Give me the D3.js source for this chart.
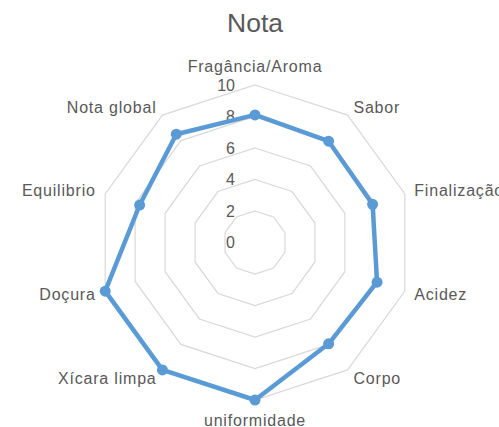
<!DOCTYPE html>
<html lang="pt">
<head>
  <meta charset="utf-8" />
  <title>Nota</title>
  <script src="https://cdnjs.cloudflare.com/ajax/libs/d3/7.8.5/d3.min.js"></script>
  <style>
    body {
      margin: 0;
      background: #fff;
      font-family: 'Liberation Sans', sans-serif;
    }
    svg text {
      fill: #595959;
    }
  </style>
</head>
<body>
  <svg id="radarChart" width="499" height="427"></svg>

<script>
// data
const categories = ["Fragância/Aroma", "Sabor", "Finalização", "Acidez", "Corpo",
                    "uniformidade", "Xícara limpa", "Doçura", "Equilibrio", "Nota global"];
const notas = [8.1, 7.95, 7.85, 8.15, 7.95, 10, 10, 10, 7.7, 8.5];
const ticks = [0, 2, 4, 6, 8, 10];

// ------------------- RADAR CHART -------------------
const svg = d3.select("#radarChart"),
      cx = 255, cy = 242.5, R = 157.5;

const g = svg.append("g").attr("transform", `translate(${cx},${cy})`);

const r = d3.scaleLinear().domain([0, 10]).range([0, R]);
const step = 2 * Math.PI / categories.length;
const a = i => i * step;

const pt = (i, v) => [Math.sin(a(i)) * r(v), -Math.cos(a(i)) * r(v)];

// title
svg.append("text")
  .attr("x", cx)
  .attr("y", 31.5)
  .attr("text-anchor", "middle")
  .style("font-size", "26.5px")
  .text("Nota");

// grid rings
ticks.filter(t => t > 0).forEach(t => {
  g.append("path")
    .attr("d", d3.line()(categories.map((c, i) => pt(i, t))) + "Z")
    .attr("fill", "none")
    .attr("stroke", "#d9d9d9")
    .attr("stroke-width", 1.2);
});

// tick labels
g.selectAll(".tick")
  .data(ticks)
  .enter()
  .append("text")
  .attr("x", -20)
  .attr("y", d => -r(d))
  .attr("dy", "0.36em")
  .attr("text-anchor", "end")
  .style("font-size", "16px")
  .text(d => d);

// category labels
g.selectAll(".cat")
  .data(categories)
  .enter()
  .append("text")
  .attr("x", (d, i) => Math.sin(a(i)) * (R + 10))
  .attr("y", (d, i) => -Math.cos(a(i)) * (R + 10))
  .attr("dy", (d, i) => {
    const c = Math.cos(a(i));
    if (c > 0.99) return "-0.2em";
    if (c < -0.99) return "1.0em";
    return "0.35em";
  })
  .attr("text-anchor", (d, i) => {
    const s = Math.sin(a(i));
    return s > 0.1 ? "start" : s < -0.1 ? "end" : "middle";
  })
  .style("font-size", "16px")
  .style("letter-spacing", "0.8px")
  .text(d => d);

// series line
const line = d3.lineRadial()
  .angle((d, i) => a(i))
  .radius(d => r(d))
  .curve(d3.curveLinearClosed);

g.append("path")
  .datum(notas)
  .attr("fill", "none")
  .attr("stroke", "#5b9bd5")
  .attr("stroke-width", 4.5)
  .attr("stroke-linejoin", "round")
  .attr("d", line);

g.selectAll(".dot")
  .data(notas)
  .enter()
  .append("circle")
  .attr("cx", (d, i) => pt(i, d)[0])
  .attr("cy", (d, i) => pt(i, d)[1])
  .attr("r", 5.5)
  .attr("fill", "#5b9bd5");
</script>
</body>
</html>
